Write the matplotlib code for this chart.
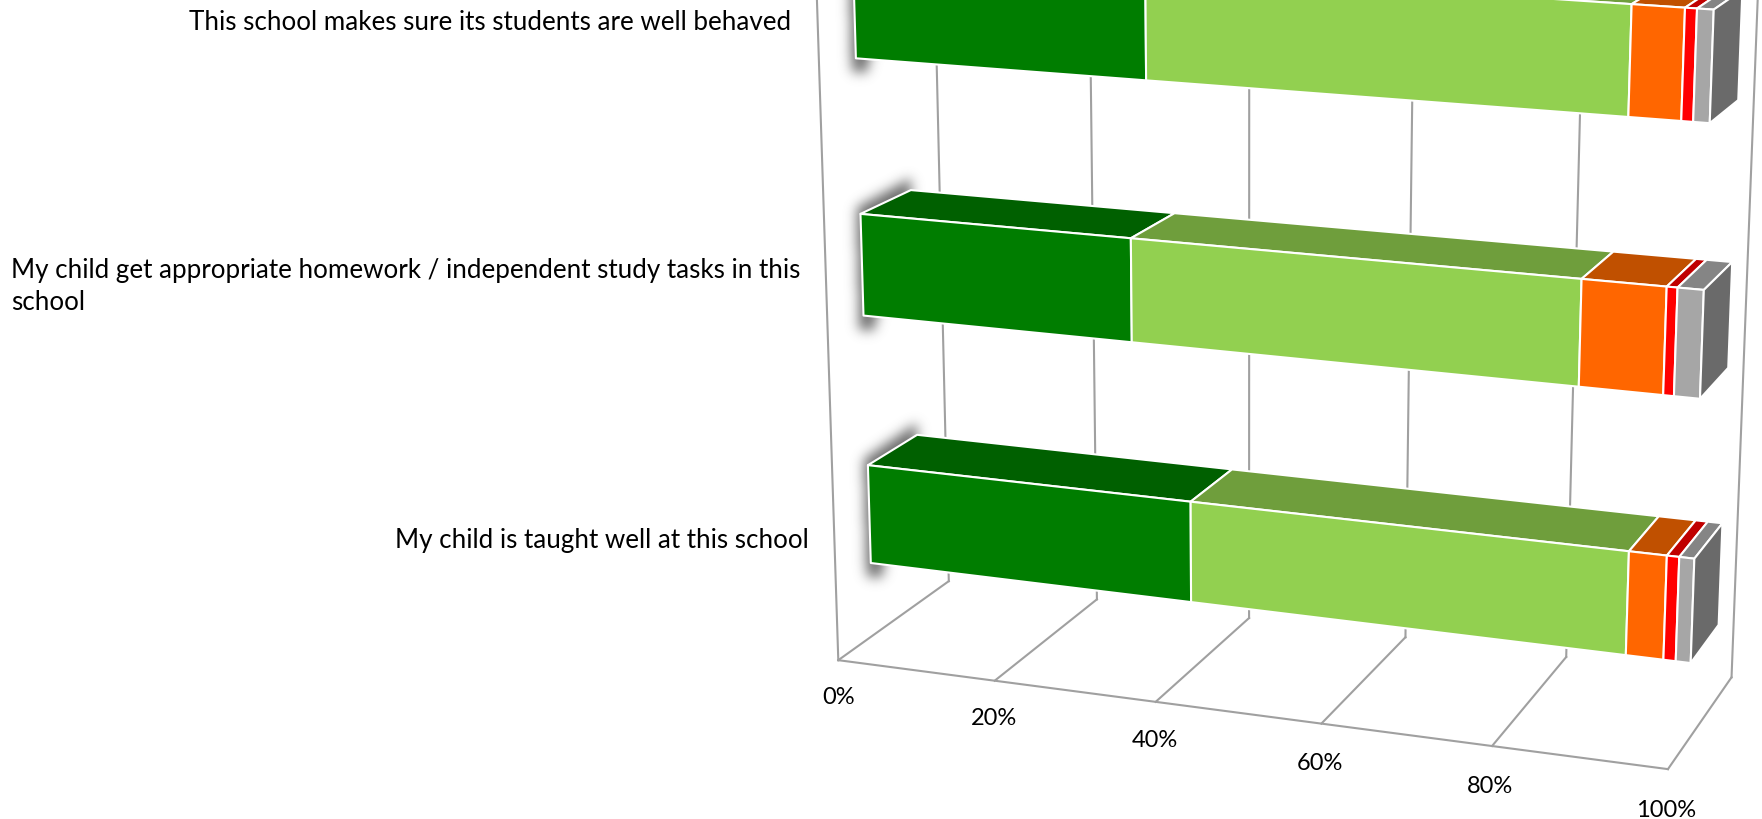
import numpy as np
import matplotlib
matplotlib.use("Agg")
import matplotlib.pyplot as plt
from matplotlib.path import Path

# bottom bar first, values in percent
categories = [
    "My child is taught well at this school",
    "My child get appropriate homework / independent study tasks in this\nschool",
    "This school makes sure its students are well behaved",
]
strongly_agree = [40.8, 33.7, 35.7]
agree = [51.8, 52.7, 55.4]
disagree = [4.3, 9.5, 5.8]
strongly_disagree = [1.4, 1.2, 1.3]
dont_know = [1.7, 2.9, 1.8]
tick_values = [0, 20, 40, 60, 80, 100]
tick_labels = ["0%", "20%", "40%", "60%", "80%", "100%"]

series = [strongly_agree, agree, disagree, strongly_disagree, dont_know]
front_colors = ["#007D00", "#92D050", "#FF6600", "#FF0000", "#A6A6A6"]
top_colors = ["#006000", "#6F9E3C", "#C05000", "#C00000", "#858585"]
side_color = "#6A6A6A"
line_color = "#A0A0A0"

W, H = 1762, 820

# camera of the fake 3D chart: tick feet on the floor in pixels + vanishing point of the verticals
FRONT_FEET = [(838, 661), (995, 682), (1156, 703), (1321, 724), (1492, 747), (1668, 770.5)]
BACK_FEET = [(949, 583), (1097, 600), (1248, 618), (1406, 638), (1567, 659), (1731, 678)]
VANISH = (1246, 13265)
RISE = 0.019
BAR_DEPTH = (0.30, 0.74)
BAR_BAND = (0.3, 0.7)

rows, rhs = [], []
for depth, feet in ((0, FRONT_FEET), (1, BACK_FEET)):
    for t, (px, py) in zip(tick_values, feet):
        u = t / 100
        rows.append([u, depth, 1, 0, 0, 0, -u * px, -depth * px])
        rows.append([0, 0, 0, u, depth, 1, -u * py, -depth * py])
        rhs += [px, py]
a, b, c, d, e, f, g, h = np.linalg.lstsq(np.array(rows, float), np.array(rhs, float), rcond=None)[0]
rise = -RISE * (1 + h * BAR_DEPTH[0])


def project(pct, depth, height):
    """pct 0-100 along the axis, depth 0-1 front to back, height in category bands"""
    u = pct / 100
    den = g * u + h * depth + 1 + rise * height
    x = (a * u + b * depth + c + rise * height * VANISH[0]) / den
    y = (d * u + e * depth + f + rise * height * VANISH[1]) / den
    return x, y


def blurred_shadow(ax, corners, sigma=6, color=(0.36, 0.36, 0.36), alpha=0.9):
    corners = np.array(corners)
    x0, y0 = np.floor(corners.min(axis=0)).astype(int) - 22
    x1, y1 = np.ceil(corners.max(axis=0)).astype(int) + 22
    xx, yy = np.meshgrid(np.arange(x0, x1) + 0.5, np.arange(y0, y1) + 0.5)
    pts = np.column_stack([xx.ravel(), yy.ravel()])
    mask = Path(corners).contains_points(pts).reshape(xx.shape).astype(float)
    kx = np.arange(-18, 19)
    kernel = np.exp(-kx ** 2 / (2 * sigma ** 2))
    kernel /= kernel.sum()
    mask = np.apply_along_axis(lambda r: np.convolve(r, kernel, mode="same"), 0, mask)
    mask = np.apply_along_axis(lambda r: np.convolve(r, kernel, mode="same"), 1, mask)
    rgba = np.zeros(mask.shape + (4,))
    rgba[..., :3] = color
    rgba[..., 3] = mask * alpha
    ax.imshow(rgba, extent=(x0, x1, y1, y0), aspect="auto", zorder=3, interpolation="bilinear")


plt.rcParams["font.family"] = ["Lato", "DejaVu Sans"]
fig = plt.figure(figsize=(W / 100, H / 100), dpi=100)
ax = fig.add_axes([0, 0, 1, 1])


def face(corners, color, zorder):
    xs, ys = zip(*corners)
    ax.fill(xs, ys, facecolor=color, edgecolor="white", linewidth=1.5, joinstyle="round", zorder=zorder)


def wire(p0, p1):
    ax.plot([p0[0], p1[0]], [p0[1], p1[1]], color=line_color, lw=1.5, zorder=2)


# floor, walls and gridlines
wire(project(0, 0, 0), project(100, 0, 0))
wire(project(0, 0, 0), project(0, 0, 5))
for t, lab in zip(tick_values, tick_labels):
    wire(project(t, 0, 0), project(t, 1, 0))
    wire(project(t, 1, 0), project(t, 1, 5))
    x, y = project(t, 0, 0)
    # labels drift a little further from the axis towards the right end
    ax.text(x - t * 0.02, y + 36 + t * 0.04, lab, ha="center", va="center", fontsize=17, color="black")

# bars
front_d, back_d = BAR_DEPTH
for i, cat in enumerate(categories):
    lo, hi = i + BAR_BAND[0], i + BAR_BAND[1]

    x, y = project(0, 0, i + 0.5)
    ax.text(x - 26, y + 2.5, cat, ha="right", va="center", multialignment="left",
            fontsize=18.7, color="black", linespacing=1.38)

    ft = np.array(project(0, front_d, hi))
    bt = np.array(project(0, back_d, hi))
    fb = np.array(project(0, front_d, lo))
    blurred_shadow(ax, [ft + (-4, -6), bt + (0, -12), bt + (0, 6), fb + (12, 6),
                        fb + (12, 14), fb + (-4, 14)])

    start = 0
    for vals, fc, tc in zip(series, front_colors, top_colors):
        end = start + vals[i]
        face([project(start, back_d, hi), project(end, back_d, hi),
              project(end, front_d, hi), project(start, front_d, hi)], tc, 4)
        face([project(start, front_d, lo), project(end, front_d, lo),
              project(end, front_d, hi), project(start, front_d, hi)], fc, 5)
        start = end
    face([project(start, front_d, lo), project(start, back_d, lo),
          project(start, back_d, hi), project(start, front_d, hi)], side_color, 5)

ax.set_xlim(0, W)
ax.set_ylim(H, 0)
ax.axis("off")
fig.savefig("out.png", dpi=100, facecolor="white")
